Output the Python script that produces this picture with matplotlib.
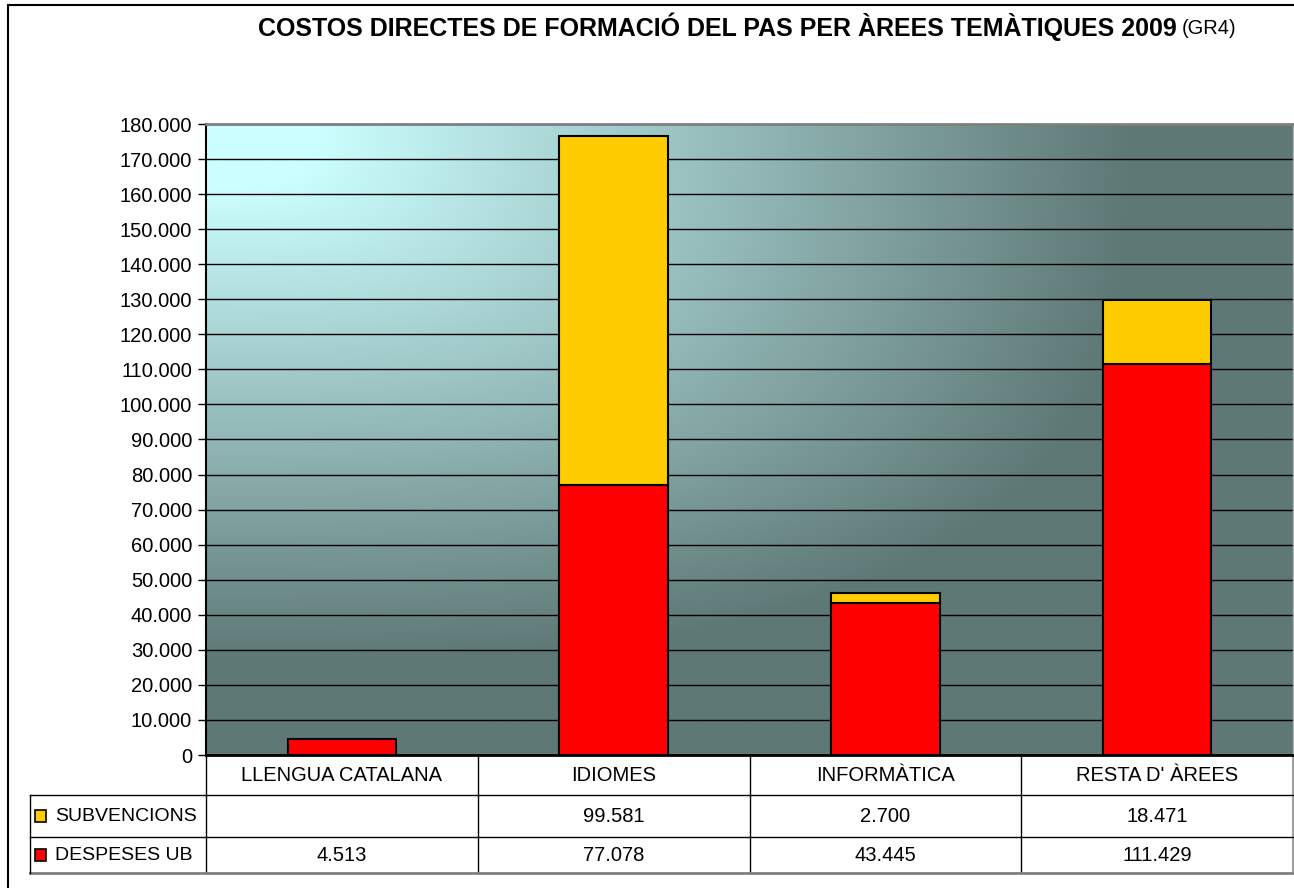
# Stacked bar chart with a data table underneath
import numpy as np
import matplotlib.pyplot as plt
import matplotlib.transforms as mtransforms
from matplotlib.patches import Rectangle
from matplotlib.lines import Line2D
from matplotlib.ticker import MultipleLocator, FuncFormatter

plt.rcParams['font.family'] = ['Liberation Sans', 'DejaVu Sans']

# Data
categories = ['LLENGUA CATALANA', 'IDIOMES', 'INFORMÀTICA', "RESTA D' ÀREES"]
despeses_ub = [4513, 77078, 43445, 111429]
subvencions = [None, 99581, 2700, 18471]
series_names = ['SUBVENCIONS', 'DESPESES UB']
series_colors = ['#FFCC00', '#FF0000']
title_main = 'COSTOS DIRECTES DE FORMACIÓ DEL PAS PER ÀREES TEMÀTIQUES 2009'
title_extra = '(GR4)'


def fmt(v):
    # thousands separated by a dot, empty cell for missing values
    if v is None:
        return ''
    return f'{v:,.0f}'.replace(',', '.')


W, H = 1294, 888
fig = plt.figure(figsize=(W / 100, H / 100), dpi=100)
fig.patch.set_facecolor('white')
ax = fig.add_axes([206 / W, 133 / H, 1087 / W, 631 / H])

# Background gradient from the top-left corner
ny, nx = 300, 500
xx, yy = np.meshgrid(np.linspace(0, 1, nx), np.linspace(0, 1, ny))
r = (xx ** 3 + yy ** 3) ** (1 / 3)
t = np.clip((r - 0.1) / 0.75, 0, 1)
light = np.array([204, 255, 255]) / 255
dark = np.array([94, 120, 118]) / 255
img = light + (dark - light) * t[..., None]
ax.imshow(img, extent=[0, 1, 0, 1], transform=ax.transAxes, aspect='auto',
          origin='upper', zorder=0)

# Bars
x = np.arange(len(categories))
ax.bar(x, despeses_ub, 0.4, color=series_colors[1], edgecolor='black',
       linewidth=1.5, zorder=3)
sub_x = [i for i, v in enumerate(subvencions) if v is not None]
sub_v = [subvencions[i] for i in sub_x]
sub_b = [despeses_ub[i] for i in sub_x]
ax.bar(sub_x, sub_v, 0.4, bottom=sub_b, color=series_colors[0],
       edgecolor='black', linewidth=1.5, zorder=3)

ax.set_xlim(-0.5, len(categories) - 0.5)
ax.set_ylim(0, 180000)
ax.yaxis.set_major_locator(MultipleLocator(10000))
ax.yaxis.set_major_formatter(FuncFormatter(lambda v, p: fmt(v)))
ax.set_axisbelow(True)
ax.grid(axis='y', color='black', linewidth=1.0)
ax.set_xticks([])
ax.tick_params(axis='y', direction='out', length=6, width=1, color='black',
               labelsize=14.5, pad=4)

ax.spines['left'].set_color('black')
ax.spines['left'].set_linewidth(1.5)
ax.spines['bottom'].set_color('black')
ax.spines['bottom'].set_linewidth(2)
ax.spines['top'].set_color('#808080')
ax.spines['top'].set_linewidth(2)
ax.spines['right'].set_color('#b0b0b0')
ax.spines['right'].set_linewidth(1)

# Data table below the axes
trans = mtransforms.blended_transform_factory(ax.transData, ax.transAxes)
h1, h2, h3 = -40 / 631, -82 / 631, -118 / 631
xl = -176 / 1087

for b in np.arange(len(categories)) - 0.5:
    ax.plot([b, b], [0, h3], color='black', lw=1, transform=trans, clip_on=False)
ax.plot([len(categories) - 0.5] * 2, [0, h3], color='#a0a0a0', lw=1.5,
        transform=trans, clip_on=False)
for yv in (h1, h2):
    ax.add_artist(Line2D([xl, 1], [yv, yv], color='black', lw=1,
                         transform=ax.transAxes, clip_on=False))
ax.add_artist(Line2D([xl, 1], [h3, h3], color='#808080', lw=2,
                     transform=ax.transAxes, clip_on=False))
ax.add_artist(Line2D([xl, xl], [h1, h3], color='black', lw=1,
                     transform=ax.transAxes, clip_on=False))

for i, cat in enumerate(categories):
    ax.text(i, h1 / 2, cat, transform=trans, ha='center', va='center',
            fontsize=14.5)

rows = [(series_names[0], subvencions, series_colors[0], (h1 + h2) / 2),
        (series_names[1], despeses_ub, series_colors[1], (h2 + h3) / 2)]
for name, vals, col, yc in rows:
    ax.add_patch(Rectangle((xl + 5 / 1087, yc - 6 / 631), 11 / 1087, 12 / 631,
                           facecolor=col, edgecolor='black', lw=1.2,
                           transform=ax.transAxes, clip_on=False))
    ax.text(xl + 25 / 1087, yc, name, transform=ax.transAxes, ha='left',
            va='center', fontsize=14)
    for i, v in enumerate(vals):
        ax.text(i, yc, fmt(v), transform=trans, ha='center', va='center',
                fontsize=14.5)

# Title
t1 = fig.text(258 / W, 1 - 27 / H, title_main, fontsize=18,
              fontweight='bold', va='center', ha='left')
fig.canvas.draw()
bb = t1.get_window_extent()
fig.text((bb.x1 + 5) / W, 1 - 28 / H, title_extra, fontsize=14.5, va='center',
         ha='left')

# Outer frame
fig.add_artist(Rectangle((8 / W, -0.05), 1.0, 1 - 5 / H + 0.05, fill=False,
                         edgecolor='black', lw=1.5, transform=fig.transFigure))

fig.savefig('out.png', dpi=100)
